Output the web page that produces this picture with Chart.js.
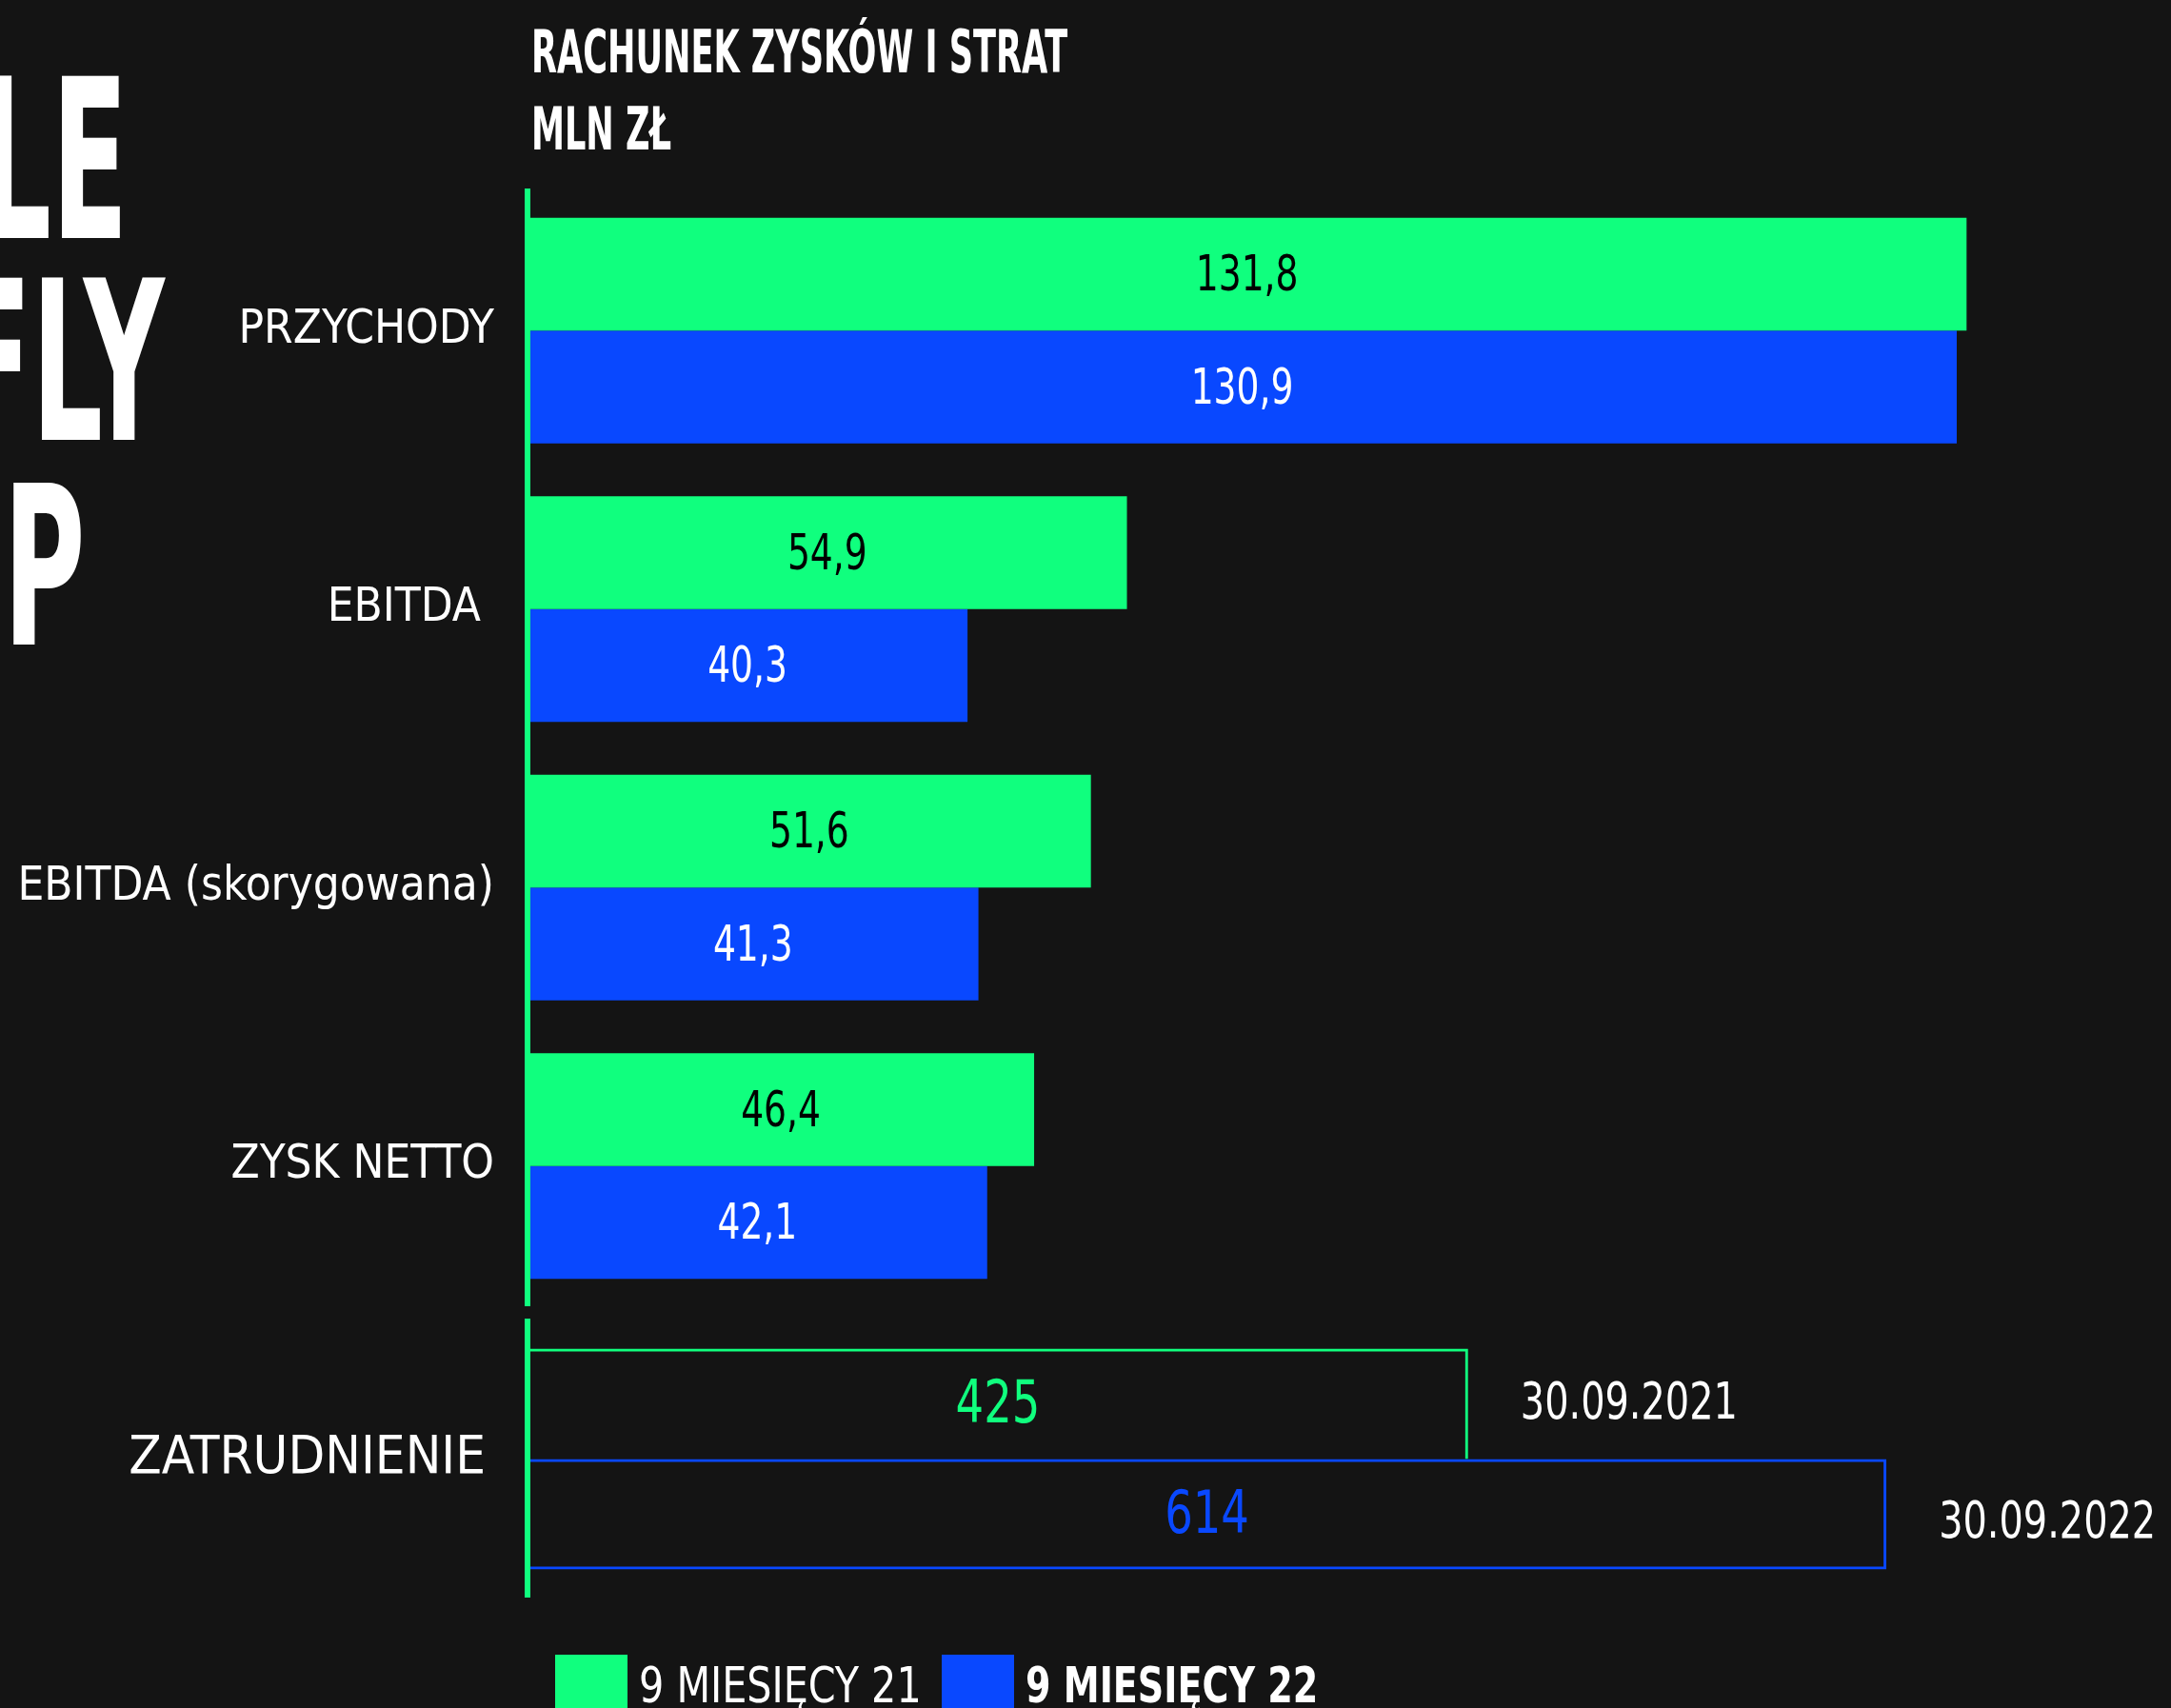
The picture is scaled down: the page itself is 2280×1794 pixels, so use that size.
<!DOCTYPE html>
<html lang="pl">
<head>
<meta charset="utf-8">
<title>Rachunek zysków i strat</title>
<script src="https://cdn.jsdelivr.net/npm/chart.js@4/dist/chart.umd.min.js"></script>
<style>
    html, body { margin: 0; padding: 0; }
    body {
        width: 2280px;
        height: 1794px;
        overflow: hidden;
        position: relative;
        background: #141414;
        color: #fff;
        font-family: 'DejaVu Sans Condensed', 'DejaVu Sans', sans-serif;
    }
    .abs { position: absolute; white-space: nowrap; }
    .big {
        font-size: 233px;
        line-height: 233px;
        font-weight: 700;
        transform: scaleX(0.56);
        transform-origin: right center;
    }
    .title {
        font-size: 63px;
        line-height: 63px;
        font-weight: 700;
        transform: scaleX(0.62);
        transform-origin: left center;
    }
    .legend-box { position: absolute; width: 76px; height: 80px; }
    .legend-text {
        font-size: 51px;
        line-height: 51px;
        transform-origin: left center;
    }
    canvas { position: absolute; left: 0; }
</style>
</head>
<body>

<div class="abs big" style="top:53px; right:2146px;">PEOPLE</div>
<div class="abs big" style="top:265px; right:2107px;">CAN FLY</div>
<div class="abs big" style="top:480px; right:2191px;">GROUP</div>

<div class="abs title" style="top:23px; left:558px;">RACHUNEK ZYSKÓW I STRAT</div>
<div class="abs title" style="top:104px; left:558px;">MLN ZŁ</div>

<canvas id="pnlChart" style="top:0;" width="2280" height="1461"></canvas>
<canvas id="staffChart" style="top:1288px;" width="2280" height="489"></canvas>

<div class="legend-box" style="left:583px; top:1738px; background:#10ff7e;"></div>
<div class="abs legend-text" id="legend21" style="left:671px; top:1745px; transform:scaleX(0.9);"></div>
<div class="legend-box" style="left:989px; top:1738px; background:#0948ff;"></div>
<div class="abs legend-text" id="legend22" style="left:1077px; top:1745px; font-weight:700; transform:scaleX(0.83);"></div>

<script>
// ---- data ----
const seriesNames = ['9 MIESIĘCY 21', '9 MIESIĘCY 22'];
const categories = ['PRZYCHODY', 'EBITDA ', 'EBITDA (skorygowana)', 'ZYSK NETTO'];
const values21 = [131.8, 54.9, 51.6, 46.4];
const values22 = [130.9, 40.3, 41.3, 42.1];

const staffCategory = ['ZATRUDNIENIE'];
const staff21 = [425];
const staff22 = [614];
const staffDates = ['30.09.2021', '30.09.2022'];

// ---- style ----
const GREEN = '#10ff7e';
const BLUE = '#0948ff';
const FONT = "'DejaVu Sans Condensed', 'DejaVu Sans', sans-serif";
const SQUEEZE = 0.82; // narrower digits, like the original typeface

document.getElementById('legend21').textContent = seriesNames[0];
document.getElementById('legend22').textContent = seriesNames[1];

function squeezedText(ctx, text, x, y, align) {
    ctx.save();
    ctx.translate(x, y);
    ctx.scale(SQUEEZE, 1);
    ctx.textAlign = align;
    ctx.fillText(text, 0, 0);
    ctx.restore();
}

// value labels centred inside the bars (+ optional text after the bar end)
const barValueLabels = {
    id: 'barValueLabels',
    afterDatasetsDraw(chart, args, opts) {
        const ctx = chart.ctx;
        ctx.save();
        ctx.textBaseline = 'middle';
        chart.data.datasets.forEach((ds, di) => {
            chart.getDatasetMeta(di).data.forEach((bar, i) => {
                ctx.font = `${opts.size}px ${FONT}`;
                ctx.fillStyle = opts.colors[di];
                squeezedText(ctx, opts.format(ds.data[i]), (bar.base + bar.x) / 2, bar.y + opts.dy, 'center');
                if (opts.after) {
                    ctx.font = `${opts.after.size}px ${FONT}`;
                    ctx.fillStyle = '#fff';
                    squeezedText(ctx, opts.after.texts[di], bar.x + 55, bar.y + opts.after.dy[di], 'left');
                }
            });
        });
        ctx.restore();
    }
};

function yAxis(fontSize, pad) {
    return {
        grid: { display: false },
        border: { color: GREEN, width: 6, z: 1 },
        ticks: { color: '#fff', font: { family: FONT, size: fontSize }, padding: pad },
        afterFit(scale) { scale.width = 554; }
    };
}

new Chart(document.getElementById('pnlChart'), {
    type: 'bar',
    data: {
        labels: categories,
        datasets: [
            { label: seriesNames[0], data: values21, backgroundColor: GREEN },
            { label: seriesNames[1], data: values22, backgroundColor: BLUE }
        ]
    },
    options: {
        indexAxis: 'y',
        responsive: false,
        animation: false,
        categoryPercentage: 0.81,
        barPercentage: 1,
        layout: { padding: { top: 201, bottom: 90, left: 0, right: 6 } },
        scales: {
            x: { display: false, min: 0, max: 150 },
            y: yAxis(49, 27)
        },
        plugins: {
            legend: { display: false },
            tooltip: { enabled: false },
            barValueLabels: {
                size: 51,
                dy: 4,
                colors: ['#000', '#fff'],
                format: v => v.toFixed(1).replace('.', ',')
            }
        }
    },
    plugins: [barValueLabels]
});

new Chart(document.getElementById('staffChart'), {
    type: 'bar',
    data: {
        labels: staffCategory,
        datasets: [
            {
                label: seriesNames[0], data: staff21,
                backgroundColor: 'transparent', borderColor: GREEN,
                borderWidth: { top: 3, right: 3, bottom: 0, left: 0 }
            },
            {
                label: seriesNames[1], data: staff22,
                backgroundColor: 'transparent', borderColor: BLUE,
                borderWidth: { top: 3, right: 3, bottom: 3, left: 0 }
            }
        ]
    },
    options: {
        indexAxis: 'y',
        responsive: false,
        animation: false,
        categoryPercentage: 0.803,
        barPercentage: 1,
        layout: { padding: { top: 100, bottom: 100, left: 0, right: 6 } },
        scales: {
            x: { display: false, min: 0, max: 740 },
            y: yAxis(56, 36)
        },
        plugins: {
            legend: { display: false },
            tooltip: { enabled: false },
            barValueLabels: {
                size: 63,
                dy: 3,
                colors: [GREEN, BLUE],
                format: v => String(v),
                after: { size: 54, texts: staffDates, dy: [1, 10] }
            }
        }
    },
    plugins: [barValueLabels]
});
</script>
</body>
</html>
